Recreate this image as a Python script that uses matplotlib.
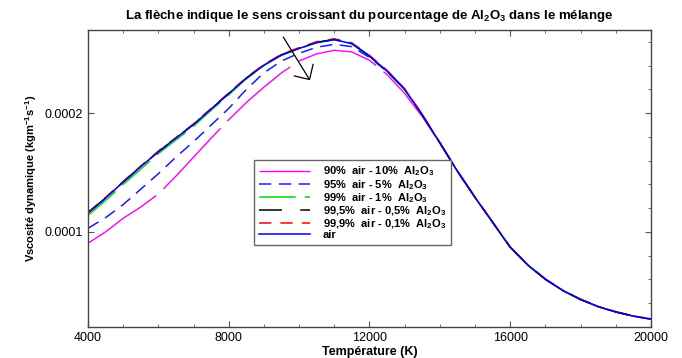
import numpy as np
import matplotlib
matplotlib.use('Agg')
import matplotlib.pyplot as plt
from matplotlib.ticker import MultipleLocator

plt.rcParams['font.family'] = ['Liberation Sans', 'DejaVu Sans']
plt.rcParams['mathtext.fontset'] = 'custom'
plt.rcParams['mathtext.rm'] = 'Liberation Sans:bold'
plt.rcParams['mathtext.it'] = 'Liberation Sans:bold'
plt.rcParams['mathtext.bf'] = 'Liberation Sans:bold'

# Temperature grid (K)
T = [4000, 4500, 5000, 5500, 6000, 6500, 7000, 7500, 8000, 8500, 9000,
     9500, 10000, 10500, 11000, 11500, 12000, 12500, 13000, 13500, 14000,
     14500, 15000, 15500, 16000, 16500, 17000, 17500, 18000, 18500, 19000,
     19500, 20000]

# dynamic viscosity, units of 1e-5 kg/m/s
mu_90 = [9.05, 10.0, 11.15, 12.1, 13.2, 14.7, 16.3, 17.9, 19.45, 20.9, 22.2,
         23.4, 24.4, 25.0, 25.3, 25.15, 24.45, 23.25, 21.65, 19.7, 17.45,
         15.1, 12.9, 10.8, 8.7, 7.2, 6.0, 5.05, 4.3, 3.7, 3.25, 2.9, 2.65]
mu_95 = [10.3, 11.2, 12.3, 13.6, 14.9, 16.3, 17.6, 19.0, 20.4, 22.0, 23.4,
         24.4, 25.05, 25.55, 25.8, 25.6, 24.7, 23.5, 22.0, 19.85, 17.5,
         15.1, 12.9, 10.8, 8.7, 7.2, 6.0, 5.05, 4.3, 3.7, 3.25, 2.9, 2.65]
mu_99 = [11.4, 12.65, 14.0, 15.3, 16.6, 17.75, 18.9, 20.25, 21.55, 22.9, 24.0,
         24.88, 25.43, 25.93, 26.18, 25.84, 24.8, 23.55, 22.0, 19.85, 17.5,
         15.1, 12.9, 10.8, 8.7, 7.2, 6.0, 5.05, 4.3, 3.7, 3.25, 2.9, 2.65]
mu_995 = [11.6, 12.85, 14.2, 15.5, 16.75, 17.9, 19.05, 20.35, 21.65, 22.95, 24.05,
          24.92, 25.47, 25.97, 26.22, 25.88, 24.82, 23.57, 22.02, 19.87, 17.52,
          15.12, 12.92, 10.82, 8.72, 7.22, 6.02, 5.07, 4.32, 3.72, 3.27, 2.92, 2.67]
mu_999 = [11.65, 12.9, 14.25, 15.55, 16.8, 17.95, 19.1, 20.4, 21.7, 23.0, 24.1,
          24.97, 25.52, 26.02, 26.27, 25.92, 24.86, 23.6, 22.04, 19.88, 17.52,
          15.12, 12.92, 10.82, 8.72, 7.22, 6.02, 5.07, 4.32, 3.72, 3.27, 2.92, 2.67]
mu_air = [11.6, 12.85, 14.2, 15.5, 16.75, 17.9, 19.05, 20.35, 21.65, 22.95, 24.05,
          24.9, 25.45, 25.95, 26.2, 25.85, 24.8, 23.55, 22.0, 19.85, 17.5,
          15.1, 12.9, 10.8, 8.7, 7.2, 6.0, 5.05, 4.3, 3.7, 3.25, 2.9, 2.65]

labels = ['90%  air - 10%  Al$_2$O$_3$',
          '95%  air - 5%  Al$_2$O$_3$',
          '99%  air - 1%  Al$_2$O$_3$',
          '99,5%  air - 0,5%  Al$_2$O$_3$',
          '99,9%  air - 0,1%  Al$_2$O$_3$',
          'air']

T = np.array(T)
scale = 1e-5

fig = plt.figure(figsize=(6.82, 3.58), dpi=100)
ax = fig.add_axes([0.129, 0.087, 0.8255, 0.829])

ax.plot(T, np.array(mu_90)*scale, color='#ff00ff', lw=1.0, dashes=(60, 7), label=labels[0])
ax.plot(T, np.array(mu_95)*scale, color='#1a1aff', lw=1.1, dashes=(8, 5), label=labels[1])
ax.plot(T, np.array(mu_99)*scale, color='#00dd00', lw=1.1, dashes=(24, 6), label=labels[2])
ax.plot(T, np.array(mu_995)*scale, color='black', lw=1.1, dashes=(15, 12), label=labels[3])
ax.plot(T, np.array(mu_999)*scale, color='red', lw=1.1, dashes=(8, 6), label=labels[4])
ax.plot(T, np.array(mu_air)*scale, color='#0000ee', lw=1.1, label=labels[5])

ax.annotate('', xy=(10309, 0.0002277), xytext=(9551, 0.0002641),
            arrowprops=dict(arrowstyle='->,head_length=0.4,head_width=0.4',
                            mutation_scale=20, color='black', lw=0.9,
                            shrinkA=0, shrinkB=0))

ax.set_xlim(4000, 20000)
ax.set_ylim(2e-5, 2.7e-4)
ax.set_xticks([4000, 8000, 12000, 16000, 20000])
ax.set_yticks([0.0001, 0.0002])
ax.set_yticklabels(['0.0001', '0.0002'])
ax.xaxis.set_minor_locator(MultipleLocator(1000))
ax.yaxis.set_minor_locator(MultipleLocator(2e-5))
ax.tick_params(which='both', direction='in', top=True, right=True, labelsize=9,
               color='#555555')
ax.tick_params(which='major', length=4)
ax.tick_params(which='minor', length=2.5, left=False)
for s in ax.spines.values():
    s.set_color('#444444')
    s.set_linewidth(1.0)

ax.set_title('La flèche indique le sens croissant du pourcentage de Al$_2$O$_3$ dans le mélange',
             fontsize=9.5, fontweight='bold', pad=8)
ax.set_xlabel('Température (K)', fontsize=9, fontweight='bold', labelpad=2)
ax.set_ylabel('Vscosité dynamique (kgm$^{-1}$s$^{-1}$)', fontsize=8,
              fontweight='bold', labelpad=4)

leg = ax.legend(loc='upper left', bbox_to_anchor=(0.295, 0.562), borderaxespad=0,
                fancybox=False, framealpha=1, edgecolor='#666666',
                prop={'size': 8, 'weight': 'bold'}, handlelength=4.6,
                labelspacing=-0.05, borderpad=0.4, handletextpad=1.2)
leg.get_frame().set_linewidth(1.0)

fig.savefig('out.png', dpi=100)
